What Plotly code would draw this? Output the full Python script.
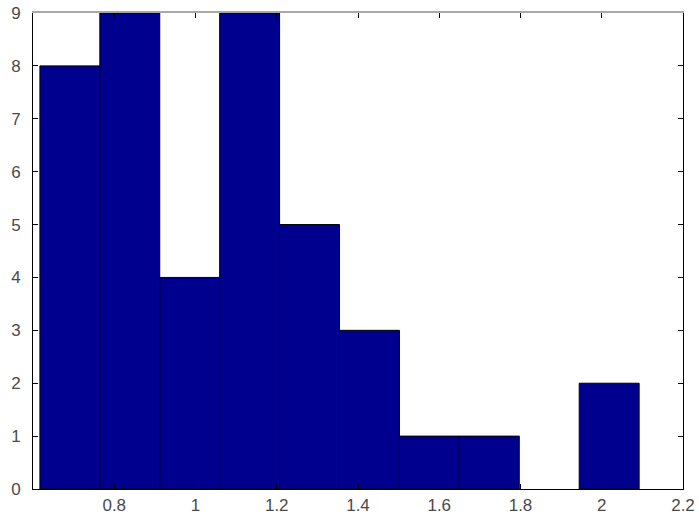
import plotly.graph_objects as go

# Histogram data (MATLAB-style hist, 10 bins)
bin_start = 0.617
bin_width = 0.1475
counts = [8, 9, 4, 9, 5, 3, 1, 1, 0, 2]
x_ticks = [0.8, 1.0, 1.2, 1.4, 1.6, 1.8, 2.0, 2.2]
x_tick_labels = ["0.8", "1", "1.2", "1.4", "1.6", "1.8", "2", "2.2"]
y_ticks = [0, 1, 2, 3, 4, 5, 6, 7, 8, 9]

centers = [bin_start + bin_width * (i + 0.5) for i in range(len(counts))]
edge_widths = [1 if c > 0 else 0 for c in counts]

fig = go.Figure(
    go.Bar(
        x=centers,
        y=counts,
        width=[bin_width] * len(counts),
        marker=dict(color="#00008F", line=dict(color="black", width=edge_widths)),
        cliponaxis=False,
    )
)
fig.add_trace(go.Scatter(x=[None], y=[None], xaxis="x2", showlegend=False, hoverinfo="skip"))

fig.update_layout(
    width=699,
    height=525,
    margin=dict(l=33, r=16, t=13, b=36, autoexpand=False),
    plot_bgcolor="white",
    paper_bgcolor="white",
    showlegend=False,
    font=dict(family="Liberation Sans, Arial, sans-serif", size=17, color="#4a4a4a"),
    xaxis=dict(
        range=[0.6, 2.2],
        tickvals=x_ticks,
        ticktext=x_tick_labels,
        ticks="inside",
        ticklen=5,
        tickcolor="black",
        showline=True,
        linecolor="black",
        linewidth=1,
        showgrid=False,
        zeroline=False,
        automargin=False,
        ticklabelstandoff=1,
        ticklabeloverflow="allow",
    ),
    xaxis2=dict(
        overlaying="x",
        side="top",
        anchor="y",
        range=[0.6, 2.2],
        tickvals=x_ticks,
        ticks="inside",
        ticklen=5,
        tickcolor="black",
        showticklabels=False,
        showline=True,
        linecolor="#a8a8a8",
        linewidth=2,
        showgrid=False,
        zeroline=False,
        automargin=False,
    ),
    yaxis=dict(
        range=[0, 9],
        tickvals=y_ticks,
        ticks="inside",
        ticklen=5,
        tickcolor="black",
        showline=True,
        linecolor="black",
        linewidth=1,
        mirror="ticks",
        showgrid=False,
        zeroline=False,
        automargin=False,
        ticklabelstandoff=8,
        ticklabeloverflow="allow",
    ),
)

# remove the default page margin so the figure fills the window exactly
fig.write_html(
    "out.html",
    config={"displayModeBar": False},
    post_script="document.body.style.margin='0';document.body.style.overflow='hidden';",
)
